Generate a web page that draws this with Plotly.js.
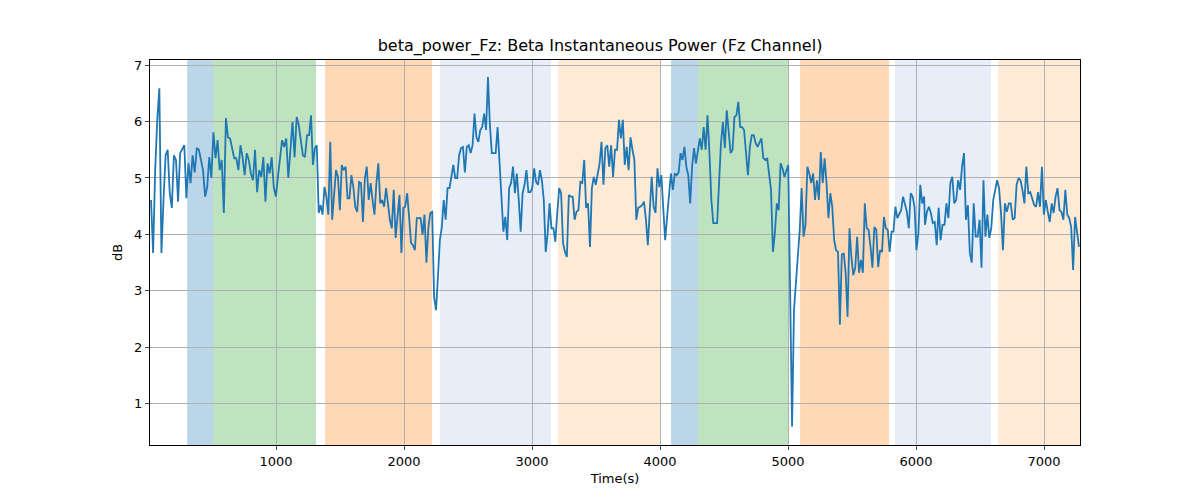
<!DOCTYPE html>
<html>
<head>
<meta charset="utf-8">
<script src="https://cdn.plot.ly/plotly-3.0.1.min.js"></script>
<style>body{margin:0;background:#fff}</style>
</head>
<body>
<div id="chart" style="width:1200px;height:500px"></div>
<script>
// beta power trace (dB), read in six stretches; each stretch is evenly sampled
var segStart = [23, 1258, 2445, 3664, 4867, 6070];
var segEnd   = [1242, 2430, 3648, 4852, 6063, 7273];
var seg1 = [4.61,3.67,5.14,6.03,6.59,3.67,4.61,5.4,5.5,4.73,4.47,5.4,5.32,4.58,5.44,5.5,5.58,4.64,5.26,4.91,5.4,5.1,5.53,5.5,5.28,5.14,4.67,4.84,5.37,5.0,5.81,5.35,5.67,5.14,5.32,4.38,6.06,5.72,5.7,5.53,5.35,5.35,5.14,5.58,5.37,5.05,5.44,5.32,5.08,4.96,5.5,4.75,5.14,5.02,5.37,4.58,5.26,5.08,5.37,4.84,4.67,5.02,5.37,5.67,5.55,5.7,5.0,5.5,5.99,5.37,6.08,5.94,5.67,5.4,5.37,5.76];
var seg2 = [5.76,6.11,5.23,5.53,5.58,4.38,4.52,4.35,4.84,4.67,4.35,5.64,4.26,4.73,5.14,5.02,4.43,5.23,5.14,5.2,4.64,4.64,5.05,4.84,4.49,4.4,4.93,4.91,4.22,5.0,5.2,4.61,4.91,4.61,4.35,4.91,5.26,4.55,4.61,4.49,4.82,4.55,4.26,4.11,4.79,3.94,4.26,4.7,3.67,4.47,4.49,4.73,4.31,3.85,3.81,3.72,4.29,4.29,4.29,3.99,4.35,3.5,4.11,4.38,4.4,2.89,2.66,3.25,3.9,4.13,4.61,4.26,4.82,4.82,5.02,5.23,5.0,5.0,5.4];
var seg3 = [5.53,5.55,5.1,5.55,5.58,5.44,5.58,6.14,5.72,5.64,5.85,5.9,6.14,5.85,6.79,5.94,5.44,5.44,5.44,5.9,5.37,4.67,4.05,4.31,3.9,4.82,4.91,5.2,4.73,5.08,4.61,4.05,4.73,4.88,5.14,4.75,4.75,4.82,5.17,4.93,4.88,5.14,4.96,4.61,3.69,4.02,4.55,4.11,4.11,3.87,4.38,4.82,4.73,3.85,3.69,3.6,4.7,4.67,4.67,4.26,4.4,4.43,4.93,4.91,5.32,4.47,4.55,3.78,4.82,5.02,4.88,5.1,5.26,5.64,4.88,5.53,5.58,5.2,5.58,5.02,5.5];
var seg4 = [5.5,6.03,5.7,6.03,5.23,5.55,5.14,5.72,5.5,5.32,4.26,4.47,4.49,4.52,4.58,4.26,3.81,4.49,5.02,4.49,4.38,5.17,4.84,5.05,4.49,3.9,4.31,4.67,5.08,4.79,5.08,5.05,5.1,5.44,5.32,5.55,5.2,5.05,4.55,5.2,5.53,5.26,5.5,5.7,5.5,5.9,5.5,6.11,5.44,4.61,4.2,4.2,4.2,4.91,5.62,5.99,5.53,6.2,5.81,5.44,5.5,6.08,6.11,6.35,5.9,5.9,5.85,5.5,5.05,5.55,5.76,5.76,5.62,5.55,5.64,5.7,5.35,5.32,5.35,5.08];
var seg5 = [4.79,3.69,4.02,4.55,4.43,5.26,5.17,5.02,5.14,5.23,2.96,0.6,2.66,3.19,3.72,4.08,4.82,3.96,4.17,5.2,5.08,4.91,5.08,4.61,4.96,4.61,5.46,4.91,5.35,4.91,4.29,4.73,4.49,3.9,3.72,3.69,2.4,3.64,3.67,3.32,2.54,4.11,3.6,3.28,3.41,3.96,3.32,3.55,3.32,4.55,4.11,4.08,3.78,3.41,4.13,4.08,3.42,3.72,3.69,4.31,4.11,4.08,3.69,4.05,4.05,4.49,4.29,4.35,4.43,4.67,4.55,4.4,4.11,4.73,4.67,4.49,3.72,4.02,4.88,4.55,4.67];
var seg6 = [4.17,4.4,4.49,4.38,4.2,4.22,3.81,4.47,3.9,4.17,4.17,4.55,4.29,4.91,5.02,4.55,4.61,4.96,4.79,5.2,5.44,4.26,4.52,3.67,3.5,4.55,3.96,3.96,4.26,3.41,4.96,3.96,4.35,3.94,4.11,4.61,4.79,4.96,4.82,4.38,3.72,4.55,4.4,4.55,4.55,4.26,4.29,4.88,5.0,4.96,4.79,4.55,5.2,4.73,4.75,4.61,4.52,4.49,4.75,4.49,5.2,4.35,4.61,4.4,4.22,4.55,4.38,4.67,4.82,4.43,4.4,4.26,4.79,4.35,4.29,4.13,3.37,4.31,4.08,3.78];

// shaded task periods
var bandStart = [305, 508, 1383, 2281, 3203, 4086, 4297, 5094, 5836, 6641];
var bandEnd   = [508, 1312, 2219, 3148, 4000, 4297, 5008, 5789, 6586, 7300];
var bandColor = ['#1f77b4', '#2ca02c', '#ff7f0e', '#aec7e8', '#ffbb78',
                 '#1f77b4', '#2ca02c', '#ff7f0e', '#aec7e8', '#ffbb78'];

var time = [], power = [];
[seg1, seg2, seg3, seg4, seg5, seg6].forEach((seg, k) => {
    var step = (segEnd[k] - segStart[k]) / (seg.length - 1);
    seg.forEach((v, i) => { time.push(segStart[k] + i * step); power.push(v); });
});

var shapes = bandStart.map((s, i) => ({
    type: 'rect', xref: 'x', yref: 'paper',
    x0: s, x1: bandEnd[i], y0: 0, y1: 1,
    fillcolor: bandColor[i], opacity: 0.3, line: {width: 0}, layer: 'below'
}));

var font = {family: 'DejaVu Sans', size: 13, color: '#000'};

Plotly.newPlot('chart', [{
    x: time, y: power, type: 'scatter', mode: 'lines',
    line: {color: '#1f77b4', width: 1.8}
}], {
    width: 1200, height: 500,
    margin: {l: 150, r: 120, t: 60, b: 55},
    paper_bgcolor: '#fff', plot_bgcolor: 'rgba(0,0,0,0)',
    font: font,
    showlegend: false,
    title: {text: 'beta_power_Fz: Beta Instantaneous Power (Fz Channel)',
            font: {family: 'DejaVu Sans', size: 16, color: '#000'}, x: 0.5, y: 0.92},
    xaxis: {
        range: [15, 7281], tickvals: [1000, 2000, 3000, 4000, 5000, 6000, 7000],
        showgrid: true, gridcolor: '#b0b0b0', zeroline: false,
        showline: true, linecolor: '#000', mirror: true, ticks: 'outside', ticklen: 4,
        title: {text: 'Time(s)', font: font, standoff: 6}
    },
    yaxis: {
        range: [0.27, 7.09], tickvals: [1, 2, 3, 4, 5, 6, 7],
        showgrid: true, gridcolor: '#b0b0b0', zeroline: false,
        showline: true, linecolor: '#000', mirror: true, ticks: 'outside', ticklen: 4,
        title: {text: 'dB', font: font, standoff: 8}
    },
    shapes: shapes
}, {displayModeBar: false, staticPlot: true});
</script>
</body>
</html>
